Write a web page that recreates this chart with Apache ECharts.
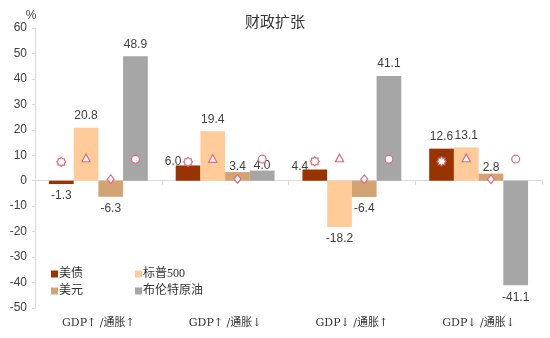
<!DOCTYPE html>
<html>
<head>
<meta charset="utf-8">
<script src="https://cdn.jsdelivr.net/npm/echarts@6/dist/echarts.min.js"></script>
<style>
  html, body { margin: 0; padding: 0; background: #fff; }
  #chart { width: 550px; height: 338px; }
</style>
</head>
<body>
<div id="chart"></div>
<script>
// Scenario categories
const categories = ['GDP↑ /通胀↑', 'GDP↑ /通胀↓', 'GDP↓ /通胀↑', 'GDP↓ /通胀↓'];

// Asset returns per scenario (%)
const ustValues   = [-1.3, 6.0, 4.4, 12.6];     // 美债
const spxValues   = [20.8, 19.4, -18.2, 13.1];  // 标普500
const usdValues   = [-6.3, 3.4, -6.4, 2.8];     // 美元
const brentValues = [48.9, 4.0, 41.1, -41.1];   // 布伦特原油

// Reference markers per scenario (%)
const ustMarks   = [7.4, 7.4, 7.6, 7.6];
const spxMarks   = [8.8, 8.6, 8.8, 8.8];
const usdMarks   = [0.6, 0.7, 0.6, 0.6];
const brentMarks = [8.4, 8.5, 8.4, 8.5];

// Y-axis ticks
const yMin = -50, yMax = 60, yStep = 10;

const seriesNames = ['美债', '标普500', '美元', '布伦特原油'];
const barColors = ['#993300', '#FFCC99', '#D4A373', '#A6A6A6'];
const markColor = '#E0687A';
const CATEGORY_GAP = 0.22;
const BARS_PER_GROUP = 4;

// labels nudged where a marker sits over the bar end  (series-category)
const labelShift = {
  '0-1': [-15, 8], '0-2': [-15, 9],
  '2-1': [0, 7], '3-1': [0, 7], '2-3': [0, 6]
};

const latinFont = '"Liberation Sans", Arial, sans-serif';
const labelFont = { fontFamily: latinFont, fontSize: 12, color: '#404040' };
const cjkFont = '"Liberation Serif", "Noto Sans CJK SC", serif';

function barSeries(idx, values) {
  return {
    name: seriesNames[idx],
    type: 'bar',
    barGap: 0,
    barCategoryGap: (CATEGORY_GAP * 100) + '%',
    itemStyle: { color: barColors[idx] },
    data: values.map((v, i) => {
      const shift = labelShift[idx + '-' + i];
      return {
        value: v,
        label: {
          show: true,
          position: v >= 0 ? 'top' : 'bottom',
          distance: 6,
          offset: shift || [0, 0]
        }
      };
    }),
    label: Object.assign({ formatter: p => p.value.toFixed(1) }, labelFont),
    z: 2
  };
}

// outline marker shapes centred on (cx, cy)
function shapeFor(kind, cx, cy, r) {
  const style = { fill: '#fff', stroke: markColor, lineWidth: 1.2 };
  if (kind === 'circle') {
    return { type: 'circle', shape: { cx: cx, cy: cy, r: r * 0.85 }, style: style };
  }
  const pts = [];
  if (kind === 'triangle') {
    pts.push([cx, cy - r], [cx + r * 0.95, cy + r * 0.8], [cx - r * 0.95, cy + r * 0.8]);
  } else if (kind === 'diamond') {
    pts.push([cx, cy - r], [cx + r * 0.8, cy], [cx, cy + r], [cx - r * 0.8, cy]);
  } else {
    // small sun: circle with short bumps
    const n = 16;
    for (let i = 0; i < n; i++) {
      const a = (i / n) * Math.PI * 2;
      const rr = i % 2 === 0 ? r : r * 0.78;
      pts.push([cx + rr * Math.sin(a), cy - rr * Math.cos(a)]);
    }
  }
  return { type: 'polygon', shape: { points: pts }, style: style };
}

// markers placed at the centre of the matching bar slot
function markSeries(slot, values, kind, radius) {
  return {
    type: 'custom',
    silent: true,
    z: 5,
    data: values.map((v, i) => [i, v]),
    renderItem: function (params, api) {
      const pt = api.coord([api.value(0), api.value(1)]);
      const band = api.size([1, 0])[0];
      const barW = band * (1 - CATEGORY_GAP) / BARS_PER_GROUP;
      const cx = pt[0] - band * (1 - CATEGORY_GAP) / 2 + barW * (slot + 0.5);
      return shapeFor(kind, cx, pt[1], radius);
    }
  };
}

const legendBase = {
  orient: 'vertical',
  top: 263,
  itemWidth: 7,
  itemHeight: 7,
  itemGap: 5,
  icon: 'rect',
  textStyle: { fontFamily: cjkFont, fontSize: 12, color: '#333', padding: [0, 0, 0, -4] }
};

const chart = echarts.init(document.getElementById('chart'));
chart.setOption({
  animation: false,
  title: {
    text: '财政扩张',
    left: 'center',
    top: 9,
    textStyle: { fontFamily: '"Noto Sans CJK SC", sans-serif', fontSize: 15, fontWeight: 'normal', color: '#333' }
  },
  legend: [
    Object.assign({ data: ['美债', '美元'], left: 46 }, legendBase),
    Object.assign({ data: ['标普500', '布伦特原油'], left: 130 }, legendBase)
  ],
  grid: { left: 35, right: 8, top: 28, bottom: 30 },
  xAxis: [
    {
      type: 'category',
      data: categories,
      axisLine: { onZero: true, lineStyle: { color: '#D9D9D9' } },
      axisTick: { show: true, length: 4, lineStyle: { color: '#D9D9D9' } },
      axisLabel: { show: false }
    },
    {
      type: 'category',
      data: categories,
      position: 'bottom',
      axisLine: { show: false, onZero: false },
      axisTick: { show: false },
      axisLabel: { margin: 10, fontFamily: '"DejaVu Serif", "Noto Sans CJK SC", serif', fontSize: 11, color: '#333' }
    }
  ],
  yAxis: {
    type: 'value',
    min: yMin,
    max: yMax,
    interval: yStep,
    name: '%',
    nameGap: 4,
    nameTextStyle: { fontFamily: latinFont, fontSize: 12, color: '#404040', padding: [0, 8, 0, 0] },
    axisLine: { show: true, lineStyle: { color: '#D9D9D9' } },
    axisTick: { show: true, length: 3, lineStyle: { color: '#D9D9D9' } },
    splitLine: { show: false },
    axisLabel: { margin: 8, fontFamily: latinFont, fontSize: 12, color: '#404040' }
  },
  series: [
    barSeries(0, ustValues),
    barSeries(1, spxValues),
    barSeries(2, usdValues),
    barSeries(3, brentValues),
    markSeries(0, ustMarks, 'sun', 4.5),
    markSeries(1, spxMarks, 'triangle', 4.3),
    markSeries(2, usdMarks, 'diamond', 4.3),
    markSeries(3, brentMarks, 'circle', 4.6)
  ]
});
</script>
</body>
</html>
